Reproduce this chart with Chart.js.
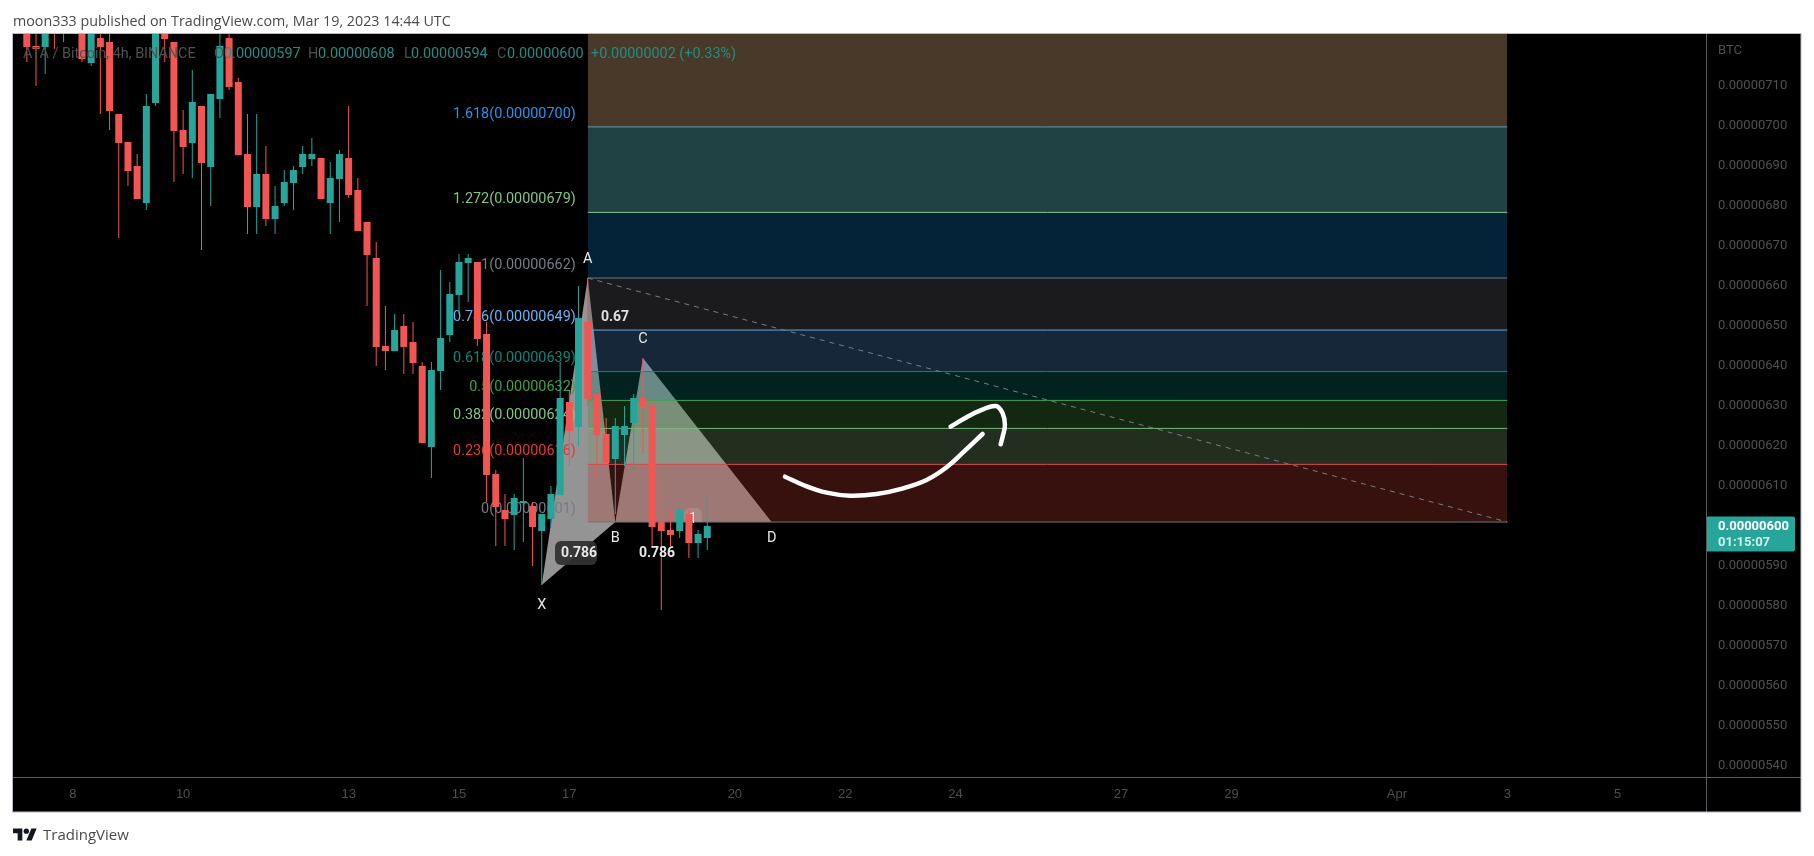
<!DOCTYPE html>
<html>
<head>
<meta charset="utf-8">
<title>ATA / Bitcoin</title>
<script src="https://cdn.jsdelivr.net/npm/chart.js@4/dist/chart.umd.min.js"></script>
<style>
    html, body { margin: 0; padding: 0; background: #fff; width: 1814px; height: 856px; overflow: hidden; }
    canvas { position: absolute; left: 0; top: 0; }
    .published { position: absolute; left: 13px; top: 11px; font: 14.3px "Open Sans", sans-serif; color: #4a4a4a; white-space: nowrap; }
    .brand { position: absolute; left: 13px; top: 824px; height: 20px; display: flex; align-items: center; font: 15px "Open Sans", sans-serif; color: #4a4a4a; }
    .brand svg { width: 24px; height: 19px; margin-right: 6px; }
</style>
</head>
<body>
<canvas id="chart" width="1814" height="856"></canvas>
<div class="published">moon333 published on TradingView.com, Mar 19, 2023 14:44 UTC</div>
<div class="brand">
    <svg viewBox="0 0 36 26"><path fill="#131722" d="M14 22H7V11H0V4h14v18zM28 22h-8l7.5-18h8L28 22z"/><circle fill="#131722" cx="20" cy="8" r="4"/></svg>
    <span>TradingView</span>
</div>
<script>
// prices are in satoshi (1e-8 BTC), candle slots are 4h bars
const opens = [740, 728, 720, 719.75, 735, 727, 736, 728, 715.75, 722, 721, 703, 696, 690, 680.75, 705.75, 726, 721, 699, 695.75,
    705, 689.75, 706.75, 722, 711, 693, 679.75, 688, 676.75, 680.75, 685.75, 689.75, 691.75, 692, 680.75, 686.75, 692, 684, 676, 667,
    645, 643.75, 650, 646, 640, 619.75, 638.75, 647.75, 657.75, 665.75, 666, 648, 613, 604, 602.75, 605.75, 605, 598.75, 601.75, 607.75,
    631, 624.75, 651, 633, 623, 616.75, 622.75, 625.75, 632, 630, 601, 599, 598.75, 603, 595.75, 597];
const highs = [745, 733, 730, 728, 738, 740, 740, 731, 730, 726, 725, 703, 696, 693, 708, 730, 730, 721, 704, 714,
    705, 708, 726, 726, 712, 703, 703, 695, 685, 689, 690, 695, 697, 692, 691, 694, 705, 687, 676, 671,
    655, 653, 653, 651, 641, 641, 664, 661, 668, 668, 666, 651, 614, 608, 608, 617, 606, 603, 610, 641,
    634, 660, 662, 633, 627, 627, 630, 633, 642, 631, 611, 604, 605, 604, 599, 608];
const lows = [730, 716, 710, 713, 719.25, 721, 726, 716, 715, 703, 699, 672, 685, 681.75, 679, 705, 716, 686, 688, 687,
    669, 680, 702, 709, 692.75, 673, 673, 675, 673, 680, 679, 688, 690, 681.75, 673, 676, 682, 673.75, 655, 640,
    639, 643.75, 638, 638, 620.75, 612, 634, 646, 653, 656, 645, 606, 595, 595, 594, 596, 590, 585.25, 599.75, 607.75,
    615, 620, 630, 612, 615, 603, 615, 614, 618, 595, 579, 595, 597, 592, 592, 594];
const closes = [735, 719.75, 719.25, 726, 726, 736, 730, 716.75, 726, 719.75, 703.75, 695.75, 688.75, 681.75, 705, 726, 721.75, 698.75, 694.75, 706,
    690.75, 708, 720, 709.75, 692.75, 679.75, 688, 676.75, 680, 686, 689, 693, 693, 681.75, 687, 693, 682.75, 673.75, 667.75, 644.75,
    643.75, 649, 644.75, 640.75, 620.75, 639, 647, 658, 666, 667, 646.75, 612.75, 604.75, 601.75, 607, 606.25, 599.75, 603, 608, 632,
    623.75, 652, 631.75, 622.75, 615.75, 625, 625, 632, 629.75, 599.75, 598.75, 597.75, 604, 595.75, 598, 600];

const priceTicks = [540, 550, 560, 570, 580, 590, 600, 610, 620, 630, 640, 650, 660, 670, 680, 690, 700, 710];
const dateTickSlots = [6, 18, 36, 48, 60, 78, 90, 102, 120, 132, 150, 162, 174];
const dateTickLabels = ['8', '10', '13', '15', '17', '20', '22', '24', '27', '29', 'Apr', '3', '5'];

// fib retracement, from the top of the sheet to the 0 line
const fibRatios = ['', '1.618', '1.272', '1', '0.786', '0.618', '0.5', '0.382', '0.236', '0'];
const fibPrices = [740, 699.75, 678.4, 662, 649, 638.6, 631.4, 624.4, 615.4, 601];
const fibLabels = ['', '0.00000700', '0.00000679', '0.00000662', '0.00000649', '0.00000639', '0.00000632', '0.00000624', '0.00000616', '0.00000601'];
const fibStart = 62;
const fibEnd = 162;
const fibLineColors = ['rgba(0,0,0,0)', '#2196f3', '#81c784', '#787b86', '#64b5f6', '#00897b', '#4caf50', '#81c784', '#f23645', '#787b86'];
const fibTextColors = ['', '#2196f3', '#81c784', '#787b86', '#64b5f6', '#00897b', '#43a047', '#81c784', '#e53935', '#787b86'];
const fibBandColors = ['rgba(240,188,135,.3)', 'rgba(108,220,230,.3)', 'rgba(16,115,185,.3)', 'rgba(88,88,95,.3)', 'rgba(70,130,190,.3)',
    'rgba(7,113,103,.3)', 'rgba(63,133,53,.3)', 'rgba(110,153,107,.3)', 'rgba(183,57,47,.3)'];

// XABCD pattern
const patternNames = ['X', 'A', 'B', 'C', 'D'];
const patternSlots = [57, 62, 65, 68, 82];
const patternPrices = [585.25, 662, 601, 642, 601];

// hand drawn arrow
const arrowSlots = [83.45, 85.44, 87.98, 90.52, 93.42, 96.31, 98.85, 101.03, 103.02, 104.94];
const arrowPrices = [612.33, 610.25, 608.33, 607.58, 608, 609.42, 611.5, 614.67, 618.83, 623];
const arrowHeadSlots = [101.46, 103.2, 104.65, 106.39, 107.12, 107.37, 107.12, 106.9];
const arrowHeadPrices = [624.83, 627.17, 628.83, 630, 628.17, 625.25, 622.33, 620.42];

const UP = '#26a69a';
const DOWN = '#f25652';
const satoshi = v => (v / 1e8).toFixed(8);

const line = (points, extra) => Object.assign({
    type: 'line', data: points, pointRadius: 0, borderWidth: 1, tension: 0, fill: false
}, extra);

const datasets = [];

// triangles go first, the fib sheet is laid over them
const pt = i => ({ x: patternSlots[i], y: patternPrices[i] });
const triangle = 'rgba(255,255,255,.58)';
datasets.push(line([pt(0), pt(1), pt(2)], { order: 40, borderColor: 'rgba(0,0,0,0)', backgroundColor: triangle, fill: 1 }));
datasets.push(line([pt(0), pt(2)], { order: 41, borderColor: 'rgba(0,0,0,0)' }));
datasets.push(line([pt(2), pt(3), pt(4)], { order: 40, borderColor: 'rgba(0,0,0,0)', backgroundColor: triangle, fill: 3 }));
datasets.push(line([pt(2), pt(4)], { order: 41, borderColor: 'rgba(0,0,0,0)' }));

const fibFirstIndex = datasets.length;
fibPrices.forEach((price, i) => {
    datasets.push(line([{ x: fibStart, y: price }, { x: fibEnd, y: price }], {
        order: 20,
        borderColor: fibLineColors[i],
        backgroundColor: fibBandColors[i] || 'rgba(0,0,0,0)',
        fill: i < fibPrices.length - 1 ? fibFirstIndex + i + 1 : false
    }));
});

datasets.push(line([{ x: patternSlots[1], y: patternPrices[1] }, { x: fibEnd, y: fibPrices[fibPrices.length - 1] }], {
    order: 15, borderColor: '#787b86', borderDash: [5, 5]
}));

const candleColor = (o, c) => c >= o ? UP : DOWN;
const wickIndex = datasets.length;
datasets.push({
    type: 'bar', label: 'wicks', order: 6, barThickness: 1, grouped: false, inflateAmount: 0,
    data: highs.map((h, i) => ({ x: i, y: [lows[i], h] })),
    backgroundColor: opens.map((o, i) => candleColor(o, closes[i]))
});
datasets.push({
    type: 'bar', label: 'bodies', order: 5, barThickness: 7, grouped: false, inflateAmount: 0,
    data: opens.map((o, i) => ({ x: i, y: [o, closes[i]] })),
    backgroundColor: opens.map((o, i) => candleColor(o, closes[i]))
});

const toPoints = (xs, ys) => xs.map((x, i) => ({ x: x, y: ys[i] }));
const arrowStyle = { order: 2, borderColor: '#fff', borderWidth: 4.5, tension: 0.4, borderCapStyle: 'round', borderJoinStyle: 'round' };
datasets.push(line(toPoints(arrowSlots, arrowPrices), arrowStyle));
datasets.push(line(toPoints(arrowHeadSlots, arrowHeadPrices), arrowStyle));

const FONT = 'Roboto, sans-serif';

function centerText(ctx, text, x, y, font, color) {
    ctx.font = font;
    ctx.fillStyle = color;
    ctx.textAlign = 'center';
    ctx.textBaseline = 'middle';
    ctx.fillText(text, x, y);
}

const tvFrame = {
    id: 'tvFrame',
    beforeDraw(chart) {
        const { ctx, chartArea } = chart;
        ctx.save();
        ctx.fillStyle = '#000';
        ctx.fillRect(13, 34, 1788, 778);
        ctx.strokeStyle = '#5a5a5f';
        ctx.lineWidth = 1;
        ctx.beginPath();
        ctx.moveTo(13, chartArea.bottom + 0.5);
        ctx.lineTo(1801, chartArea.bottom + 0.5);
        ctx.moveTo(1706.5, 34);
        ctx.lineTo(1706.5, 812);
        ctx.stroke();
        ctx.strokeStyle = '#b8bac4';
        ctx.strokeRect(12.5, 33.5, 1788.5, 778.5);
        ctx.restore();
    },
    // fib captions sit under the candles
    beforeDatasetDraw(chart, args) {
        if (args.index !== wickIndex) return;
        const { ctx, scales } = chart;
        const xLeft = scales.x.getPixelForValue(fibStart) - 12;
        ctx.save();
        ctx.font = '14.4px ' + FONT;
        ctx.textAlign = 'right';
        ctx.textBaseline = 'middle';
        fibPrices.forEach((price, i) => {
            if (!fibRatios[i]) return;
            ctx.fillStyle = fibTextColors[i];
            ctx.fillText(fibRatios[i] + '(' + fibLabels[i] + ')', xLeft, scales.y.getPixelForValue(price) - 13);
        });
        // ratio tag that ended up behind the last candles
        ctx.fillStyle = 'rgba(255,255,255,.12)';
        ctx.beginPath();
        ctx.roundRect(684, 508, 18, 14, [6, 6, 0, 0]);
        ctx.fill();
        centerText(ctx, '1', 693, 519, '14px ' + FONT, '#eee');
        ctx.restore();
    },
    afterDatasetsDraw(chart) {
        const { ctx, scales } = chart;
        ctx.save();

        // pattern letters
        const letterOffsets = [20, -19, 16, -19, 16];
        patternNames.forEach((name, i) => {
            centerText(ctx, name, scales.x.getPixelForValue(patternSlots[i]), scales.y.getPixelForValue(patternPrices[i]) + letterOffsets[i], '14.5px ' + FONT, '#e8e8e8');
        });

        // ratios
        ctx.fillStyle = 'rgba(50,50,50,.95)';
        ctx.beginPath();
        ctx.roundRect(555, 541, 42, 24, 6);
        ctx.fill();
        centerText(ctx, '0.67', 615, 317, 'bold 14px ' + FONT, '#e0e0e0');
        centerText(ctx, '0.786', 579, 553, 'bold 14px ' + FONT, '#e8e8e8');
        centerText(ctx, '0.786', 657, 553, 'bold 14px ' + FONT, '#e8e8e8');

        // legend line in the top left corner
        ctx.font = '14.4px ' + FONT;
        ctx.textAlign = 'left';
        ctx.textBaseline = 'middle';
        const legend = [
            ['ATA / Bitcoin, 4h, BINANCE', 23, '#505050'],
            ['O', 214, '#505050'], ['0.00000597', 224, '#1f8f85'],
            ['H', 308, '#505050'], ['0.00000608', 318, '#1f8f85'],
            ['L', 404, '#505050'], ['0.00000594', 411, '#1f8f85'],
            ['C', 497, '#505050'], ['0.00000600', 507, '#1f8f85'],
            ['+0.00000002 (+0.33%)', 591, '#1f8f85']
        ];
        legend.forEach(([text, x, color]) => {
            ctx.fillStyle = color;
            ctx.fillText(text, x, 54);
        });

        ctx.font = '13px ' + FONT;
        ctx.fillStyle = '#505050';
        ctx.fillText('BTC', 1718, 51);

        // last price tag
        const tagY = scales.y.getPixelForValue(closes[closes.length - 1]);
        ctx.fillStyle = UP;
        ctx.beginPath();
        ctx.roundRect(1707, tagY - 9.5, 88, 35, [0, 2, 2, 0]);
        ctx.fill();
        ctx.font = 'bold 13px ' + FONT;
        ctx.fillStyle = '#fff';
        ctx.fillText(satoshi(closes[closes.length - 1]), 1718, tagY + 1);
        ctx.fillStyle = '#d4ede9';
        ctx.fillText('01:15:07', 1718, tagY + 17);
        ctx.restore();
    }
};

new Chart(document.getElementById('chart').getContext('2d'), {
    type: 'bar',
    data: { datasets: datasets },
    plugins: [tvFrame],
    options: {
        responsive: false,
        animation: false,
        events: [],
        parsing: { xAxisKey: 'x', yAxisKey: 'y' },
        layout: { padding: { left: 13, top: 34, right: 13, bottom: 44 } },
        plugins: { legend: { display: false }, tooltip: { enabled: false }, title: { display: false } },
        scales: {
            x: {
                type: 'linear',
                min: -0.5,
                max: 183.5,
                offset: false,
                grid: { display: false, drawTicks: false },
                border: { display: false },
                afterBuildTicks: axis => { axis.ticks = dateTickSlots.map(v => ({ value: v })); },
                afterFit: axis => { axis.height = 35; },
                ticks: {
                    autoSkip: false,
                    maxRotation: 0,
                    padding: 10,
                    color: '#4e4e4e',
                    font: { family: '"Liberation Sans", sans-serif', size: 13 },
                    callback: v => dateTickLabels[dateTickSlots.indexOf(v)]
                }
            },
            y: {
                position: 'right',
                min: 537.25,
                max: 723,
                grid: { display: false, drawTicks: false },
                border: { display: false },
                afterBuildTicks: axis => { axis.ticks = priceTicks.map(v => ({ value: v })); },
                afterFit: axis => { axis.width = 96; },
                ticks: {
                    autoSkip: false,
                    crossAlign: 'near',
                    padding: 13,
                    color: '#505050',
                    font: { family: FONT, size: 13 },
                    callback: v => satoshi(v)
                }
            }
        }
    }
});
</script>
</body>
</html>
